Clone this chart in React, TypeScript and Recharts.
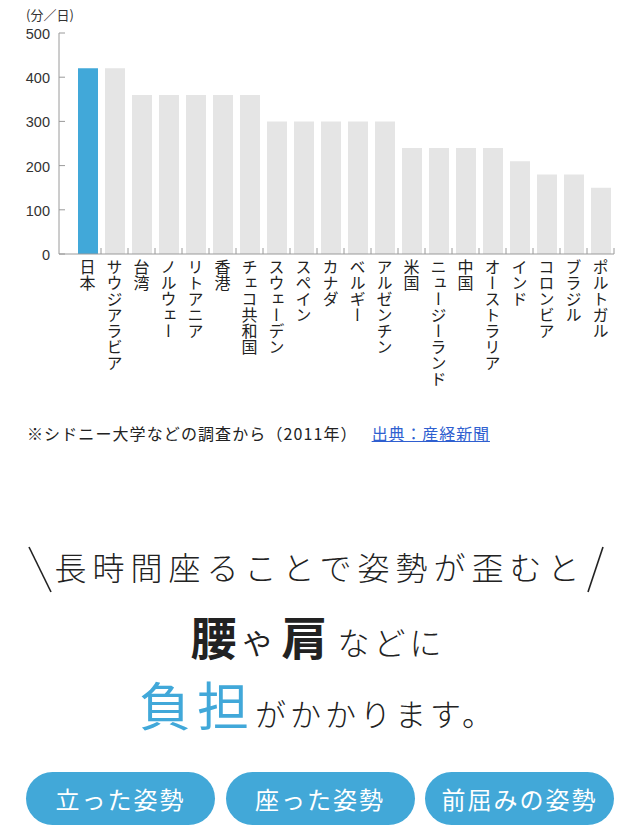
import React from 'react';
import { BarChart, Bar, XAxis, YAxis, Cell } from 'recharts';

// 国別の1日あたりの座位時間（分）
const countries = [
  '日本', 'サウジアラビア', '台湾', 'ノルウェー', 'リトアニア', '香港', 'チェコ共和国',
  'スウェーデン', 'スペイン', 'カナダ', 'ベルギー', 'アルゼンチン', '米国',
  'ニュージーランド', '中国', 'オーストラリア', 'インド', 'コロンビア', 'ブラジル', 'ポルトガル',
];
const minutes = [420, 420, 360, 360, 360, 360, 360, 300, 300, 300, 300, 300, 240, 240, 240, 240, 210, 180, 180, 150];
const yTicks = [0, 100, 200, 300, 400, 500];
const highlight = '日本';
const buttons = ['立った姿勢', '座った姿勢', '前屈みの姿勢'];

const data = countries.map((name, i) => ({ name, minutes: minutes[i] }));

const BLUE = '#41a8d9';
const GREY_BAR = '#e5e5e5';
const AXIS = '#9a9a9a';
const JP = '"Noto Sans CJK JP", "Noto Sans", sans-serif';

const CHART_W = 640;
const LEFT = 59;
const RIGHT = 26;
const PAD_LEFT = 15;
const band = (CHART_W - LEFT - RIGHT - PAD_LEFT) / countries.length;

const YTick = (props: any) => {
  const { x, y, payload } = props;
  return (
    <g>
      <line x1={x + 8} x2={x + 14} y1={y} y2={y} stroke={AXIS} />
      <text x={x - 1} y={y} dy={6} textAnchor="end" fontSize={14.5} fill="#333" fontFamily='"Liberation Sans", Arial, sans-serif'>
        {payload.value}
      </text>
    </g>
  );
};

const XTick = (props: any) => {
  const { x, y, payload } = props;
  return (
    <g>
      <line x1={x + band / 2} x2={x + band / 2} y1={y - 14} y2={y - 8} stroke={AXIS} />
      <text
        x={x}
        y={y - 3}
        fontSize={16}
        fill="#222"
        fontFamily={JP}
        style={{ writingMode: 'vertical-rl', textOrientation: 'upright' } as any}
      >
        {payload.value}
      </text>
    </g>
  );
};

export default function App() {
  return (
    <div style={{ position: 'relative', width: 640, height: 830, background: '#fff', fontFamily: JP, color: '#222' }}>
      <style>{'body{margin:0}'}</style>
      <div style={{ position: 'absolute', left: 26, top: 5, fontSize: 13, lineHeight: '20px', color: '#333' }}>(分／日)</div>

      <BarChart width={CHART_W} height={410} data={data} margin={{ top: 33, right: RIGHT, bottom: 0, left: 0 }}>
        <XAxis
          dataKey="name"
          interval={0}
          height={156}
          padding={{ left: PAD_LEFT, right: 0 }}
          axisLine={{ stroke: AXIS }}
          tickLine={false}
          tickSize={6}
          tickMargin={2}
          tick={<XTick />}
        />
        <YAxis
          width={LEFT}
          domain={[0, 500]}
          ticks={yTicks}
          axisLine={{ stroke: AXIS }}
          tickLine={false}
          tickSize={6}
          tickMargin={2}
          tick={<YTick />}
        />
        <Bar dataKey="minutes" barSize={20} isAnimationActive={false}>
          {data.map((d) => (
            <Cell key={d.name} fill={d.name === highlight ? BLUE : GREY_BAR} />
          ))}
        </Bar>
      </BarChart>

      <div style={{ position: 'absolute', left: 27, top: 422, fontSize: 16, lineHeight: '22px', letterSpacing: 1.1, whiteSpace: 'nowrap' }}>
        ※シドニー大学などの調査から（2011年）
        <span style={{ marginLeft: 14, color: '#2f5fd0', textDecoration: 'underline', letterSpacing: 0.9 }}>出典：産経新聞</span>
      </div>

      {/* 見出し */}
      <svg style={{ position: 'absolute', left: 0, top: 0 }} width={640} height={620}>
        <line x1={29} y1={547} x2={51} y2={592} stroke="#222" strokeWidth={1.6} />
        <line x1={603} y1={547} x2={588} y2={592} stroke="#222" strokeWidth={1.6} />
      </svg>
      <div style={{ position: 'absolute', left: 0, width: 640, top: 550, textAlign: 'center', fontSize: 32, lineHeight: '32px', fontWeight: 300, letterSpacing: 6, whiteSpace: 'nowrap' }}>
        長時間座ることで姿勢が歪むと
      </div>

      <div style={{ position: 'absolute', left: 0, width: 636, top: 610, textAlign: 'center', lineHeight: '50px', whiteSpace: 'nowrap' }}>
        <span style={{ fontSize: 46, fontWeight: 700 }}>腰</span>
        <span style={{ fontSize: 29, margin: '0 10px 0 6px' }}>や</span>
        <span style={{ fontSize: 46, fontWeight: 700 }}>肩</span>
        <span style={{ fontSize: 32, marginLeft: 10, letterSpacing: 4, fontWeight: 300 }}>などに</span>
      </div>

      <div style={{ position: 'absolute', left: 0, width: 636, top: 674, textAlign: 'center', lineHeight: '60px', whiteSpace: 'nowrap' }}>
        <span style={{ fontSize: 52, color: BLUE, letterSpacing: 6 }}>負担</span>
        <span style={{ fontSize: 31, letterSpacing: 4, fontWeight: 300 }}>がかかります。</span>
      </div>

      {buttons.map((b, i) => (
        <div
          key={b}
          style={{
            position: 'absolute',
            left: 26 + i * 199.5,
            top: 772,
            width: 189,
            height: 53,
            borderRadius: 27,
            background: '#42a8d8',
            color: '#fff',
            display: 'flex',
            alignItems: 'center',
            justifyContent: 'center',
            fontSize: 24,
            letterSpacing: 2,
            whiteSpace: 'nowrap',
          }}
        >
          {b}
        </div>
      ))}
    </div>
  );
}
